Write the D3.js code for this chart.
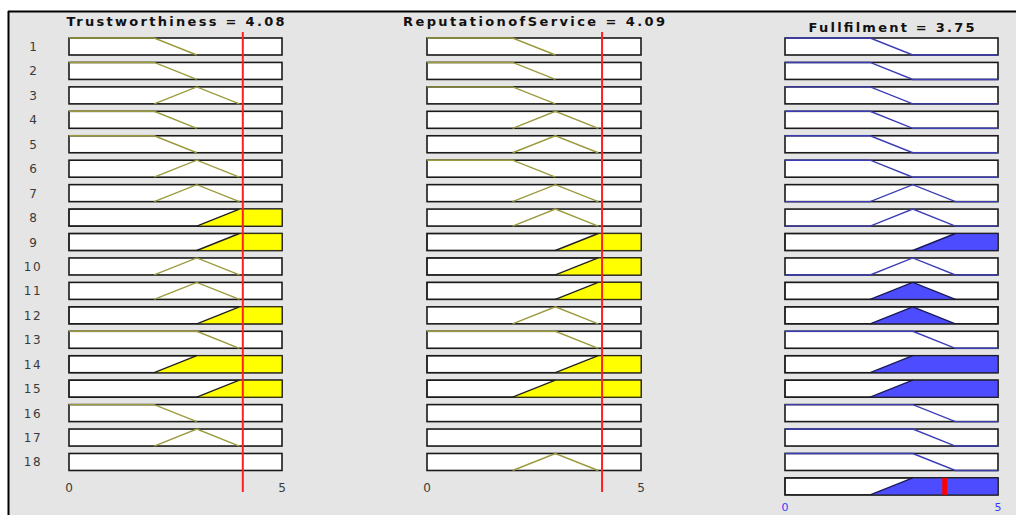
<!DOCTYPE html>
<html><head><meta charset="utf-8">
<script src="https://cdn.jsdelivr.net/npm/d3@7"></script>
<style>body{margin:0;background:#fff}svg{display:block}text{font-family:"DejaVu Sans","Liberation Sans",Arial,sans-serif}</style>
</head><body>
<svg id="c" width="1016" height="515"></svg>
<script>
// ---- data ----
const ruleNumbers = d3.range(1, 19);
// membership function parameters (trapezoid a,b,c,d on 0..5)
const mfNames = ["L", "M", "H", "LW", "HW"];
const mfParams = [[0,0,2,3],[2,3,3,4],[3,4,5,5],[0,0,3,4],[2,3,5,5]];
const trustRules  = ["L","L","M","L","L","M","M","H","H","M","M","H","LW","HW","H","L","M",""];
const trustFilled = [0,0,0,0,0,0,0,1,1,0,0,1,0,1,1,0,0,0];
const repRules    = ["L","L","L","M","M","L","M","M","H","H","H","M","LW","H","HW","","","M"];
const repFilled   = [0,0,0,0,0,0,0,0,1,1,1,0,0,1,1,0,0,0];
const outRules    = ["L","L","L","L","L","L","M","M","H","M","M","M","LW","HW","HW","LW","LW","LW"];
const outFilled   = [0,0,0,0,0,0,0,0,1,0,1,1,0,1,1,0,0,0];
const aggregateMF = "HW";
const inputValues = [4.08, 4.09];
const outputValue = 3.75;
const titles = ["Trustworthiness = 4.08", "ReputationofService = 4.09", "Fullfilment = 3.75"];
const axisTicks = [0, 5];

// ---- drawing ----
const svg = d3.select("#c");
svg.append("rect").attr("x",8).attr("y",11).attr("width",1008).attr("height",504).attr("fill","#e5e5e5");
svg.append("line").attr("x1",8).attr("x2",1016).attr("y1",11.5).attr("y2",11.5).attr("stroke","#000").attr("stroke-width",2);
svg.append("line").attr("x1",8.5).attr("x2",8.5).attr("y1",11).attr("y2",515).attr("stroke","#000").attr("stroke-width",2);

const rowY = d3.scaleLinear().domain([0, 1]).range([38, 62.44]);
const boxH = 17;

const cols = [
  {x0:69, x1:282, rules:trustRules, filled:trustFilled, line:"#9a9a3c", fill:"#ffff00", edge:"#222", val:inputValues[0], title:titles[0], tw:218, ty:26, input:true},
  {x0:427, x1:641, rules:repRules, filled:repFilled, line:"#9a9a3c", fill:"#ffff00", edge:"#222", val:inputValues[1], title:titles[1], tw:262, ty:26, input:true},
  {x0:785, x1:998, rules:outRules, filled:outFilled, line:"#3c3cb4", fill:"#4d4dff", edge:"#1a1a5a", val:outputValue, title:titles[2], tw:166, ty:32, input:false}
];

function mfPoints(name){
  const p = mfParams[mfNames.indexOf(name)];
  return [[p[0],0],[p[1],1],[p[2],1],[p[3],0]];
}

// row labels
svg.selectAll("text.rl").data(ruleNumbers).join("text").attr("class","rl")
  .attr("x",33).attr("y",(d,i)=>rowY(i)+boxH/2+4.5)
  .attr("text-anchor","middle").attr("font-size",12).attr("fill","#3a3a3a")
  .attr("letter-spacing", d=> d>=10 ? 1.5 : 0)
  .text(d=>d);

cols.forEach(c=>{
  const x = d3.scaleLinear().domain([0,5]).range([c.x0,c.x1]);
  const g = svg.append("g");
  g.append("text").attr("x",(c.x0+c.x1)/2).attr("y",c.ty).attr("text-anchor","middle")
    .attr("font-size",13).attr("font-weight","bold").attr("fill","#111")
    .attr("textLength",c.tw).attr("lengthAdjust","spacing").text(c.title);
  const nRows = c.input ? 18 : 19;
  for(let i=0;i<nRows;i++){
    const top = rowY(i);
    const y = d3.scaleLinear().domain([0,1]).range([top+boxH, top]);
    g.append("rect").attr("x",x(0)).attr("y",top).attr("width",x(5)-x(0)).attr("height",boxH)
      .attr("fill","#fff").attr("stroke","#1a1a1a").attr("stroke-width",1.6);
    const name = i<18 ? c.rules[i] : aggregateMF;
    const filled = i<18 ? c.filled[i] : 1;
    if(!name) continue;
    const pts = mfPoints(name);
    if(filled){
      g.append("path").attr("d", d3.line().x(d=>x(d[0])).y(d=>y(d[1]))(pts)+"Z")
        .attr("fill",c.fill).attr("stroke","none");
      const segs = [];
      for(let k=0;k<3;k++){ if(pts[k][1]!==pts[k+1][1]) segs.push([pts[k],pts[k+1]]); }
      segs.forEach(s=>{
        if(s[0][0]===s[1][0]) return;
        g.append("path").attr("d", d3.line().x(d=>x(d[0])).y(d=>y(d[1]))(s))
          .attr("fill","none").attr("stroke",c.edge).attr("stroke-width",1.4);
      });
      g.append("rect").attr("x",x(0)).attr("y",top).attr("width",x(5)-x(0)).attr("height",boxH)
        .attr("fill","none").attr("stroke","#1a1a1a").attr("stroke-width",1.2).attr("stroke-opacity",0.8);
    } else {
      let line = pts.filter((d,k)=>!(k===0 && pts[1][0]===d[0]) && !(k===3 && pts[2][0]===d[0]));
      if(!c.input){
        if(line[0][0]>0) line = [[0,0]].concat(line);
        if(line[line.length-1][0]<5) line = line.concat([[5,0]]);
      }
      g.append("path").attr("d", d3.line().x(d=>x(d[0])).y(d=>y(d[1]))(line))
        .attr("fill","none").attr("stroke",c.line).attr("stroke-width",1.4);
    }
  }
  if(c.input){
    g.append("line").attr("x1",x(c.val)).attr("x2",x(c.val)).attr("y1",32).attr("y2",492)
      .attr("stroke","#ff2020").attr("stroke-width",2);
    g.selectAll("text.tk").data(axisTicks).join("text").attr("class","tk")
      .attr("x",d=>x(d)).attr("y",492).attr("text-anchor","middle").attr("font-size",12).attr("fill","#3a3a3a").text(d=>d);
  } else {
    const top = rowY(18);
    g.append("line").attr("x1",x(c.val)).attr("x2",x(c.val)).attr("y1",top).attr("y2",top+boxH)
      .attr("stroke","#ff0000").attr("stroke-width",5);
    g.selectAll("text.tk").data(axisTicks).join("text").attr("class","tk")
      .attr("x",d=>x(d)).attr("y",511).attr("text-anchor","middle").attr("font-size",11).attr("fill","#3a3aff").text(d=>d);
  }
});
</script>
</body></html>
